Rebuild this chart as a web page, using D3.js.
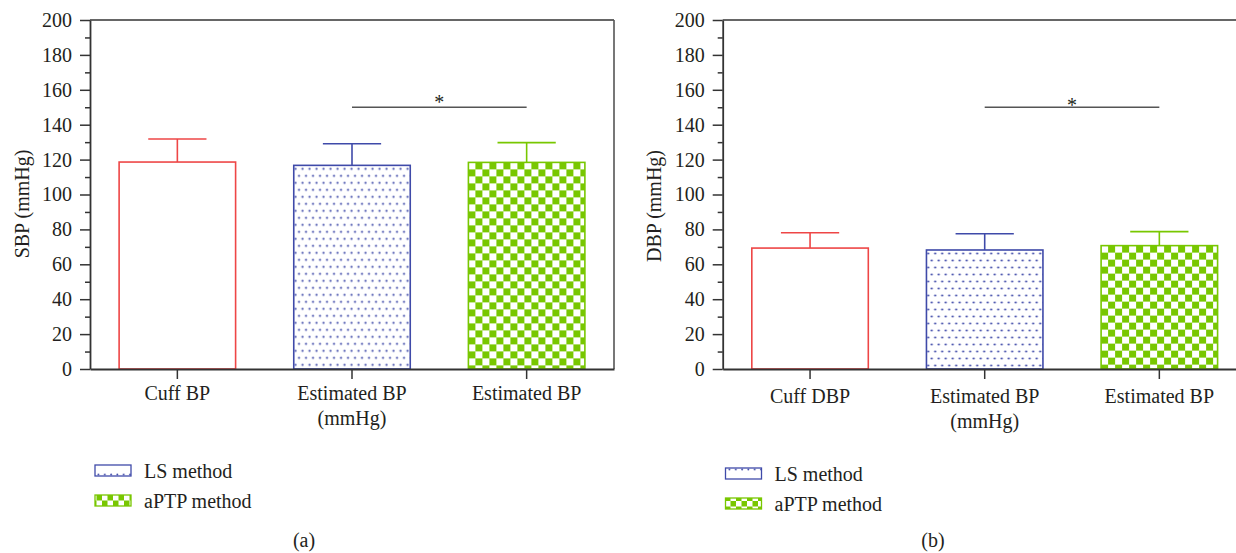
<!DOCTYPE html>
<html>
<head>
<meta charset="utf-8">
<script src="https://d3js.org/d3.v7.min.js"></script>
<style>
  body { margin: 0; background: #fff; }
  svg text { font-family: "Liberation Serif", "Times New Roman", serif; fill: #231f20; }
</style>
</head>
<body>
<svg id="chart" width="1236" height="553"></svg>
<script>
// ---- data ----
var groupNames = ["Cuff", "LS method", "aPTP method"];
var sbpLabels = [["Cuff BP"], ["Estimated BP", "(mmHg)"], ["Estimated BP"]];
var dbpLabels = [["Cuff DBP"], ["Estimated BP", "(mmHg)"], ["Estimated BP"]];
var sbpMean = [118.6, 116.7, 118.4];
var sbpUpper = [131.8, 129.1, 129.7];
var dbpMean = [69.3, 68.2, 70.7];
var dbpUpper = [78.1, 77.5, 78.7];
var yMajorTicks = [0, 20, 40, 60, 80, 100, 120, 140, 160, 180, 200];
var yMinorTicks = [10, 30, 50, 70, 90, 110, 130, 150, 170, 190];
var sigLevel = 150;
var legendNames = ["LS method", "aPTP method"];

var colors = {"Cuff": "#ee4646", "LS method": "#3f4aa9", "aPTP method": "#78c700"};
var axisColor = "#333";
var fontSize = 20;

var svg = d3.select("#chart");
var defs = svg.append("defs");

/**
 * Constructor for one bar panel
 */
function BarPanel(opts){
    var self = this;
    self.opts = opts;
    self.init();
};

BarPanel.prototype.init = function(){
    var self = this;
    var o = self.opts;
    self.g = svg.append("g");

    self.yScale = d3.scaleLinear().domain([0, 200]).range([369, 20]);
    self.xScale = d3.scaleBand()
        .domain(groupNames)
        .range([o.left, o.left + 524])
        .paddingInner(0.333)
        .paddingOuter(0.1667);
};

// dotted fill, aligned to the bar
BarPanel.prototype.dotPattern = function(id, x, y){
    var p = defs.append("pattern").attr("id", id)
        .attr("patternUnits", "userSpaceOnUse")
        .attr("x", x).attr("y", y).attr("width", 7).attr("height", 14);
    p.append("rect").attr("width", 7).attr("height", 14).attr("fill", "#fff");
    p.append("circle").attr("cx", 1.75).attr("cy", 3.5).attr("r", 1.1).attr("fill", colors["LS method"]);
    p.append("circle").attr("cx", 5.25).attr("cy", 10.5).attr("r", 1.1).attr("fill", colors["LS method"]);
};

// checkerboard fill
BarPanel.prototype.checkPattern = function(id, x, y, cell){
    var p = defs.append("pattern").attr("id", id)
        .attr("patternUnits", "userSpaceOnUse")
        .attr("x", x).attr("y", y).attr("width", cell * 2).attr("height", cell * 2);
    p.append("rect").attr("width", cell * 2).attr("height", cell * 2).attr("fill", "#fff");
    p.append("rect").attr("x", cell).attr("y", 0).attr("width", cell).attr("height", cell).attr("fill", colors["aPTP method"]);
    p.append("rect").attr("x", 0).attr("y", cell).attr("width", cell).attr("height", cell).attr("fill", colors["aPTP method"]);
};

BarPanel.prototype.draw = function(){
    var self = this;
    var o = self.opts;
    var x = self.xScale, y = self.yScale;
    var bw = x.bandwidth();

    var data = groupNames.map(function(name, i){
        return {name: name, mean: o.means[i], upper: o.upper[i], lines: o.labels[i]};
    });

    self.dotPattern(o.id + "-dots", x("LS method"), y(o.means[1]));
    self.checkPattern(o.id + "-check", x("aPTP method"), y(o.means[2]), 7);

    function fillOf(d){
        if (d.name == "LS method") return "url(#" + o.id + "-dots)";
        if (d.name == "aPTP method") return "url(#" + o.id + "-check)";
        return "#fff";
    }

    // frame: top and right lines
    self.g.append("line")
        .attr("x1", o.left).attr("x2", o.left + 524)
        .attr("y1", y(200)).attr("y2", y(200))
        .attr("stroke", axisColor).attr("stroke-width", 1.6);
    self.g.append("line")
        .attr("x1", o.left + 524).attr("x2", o.left + 524)
        .attr("y1", y(200)).attr("y2", y(0))
        .attr("stroke", "#555").attr("stroke-width", 1.6);

    // error bars
    var err = self.g.selectAll(".err").data(data).enter().append("g").attr("class", "err")
        .attr("stroke", function(d){ return colors[d.name]; })
        .attr("stroke-width", 1.6);
    err.append("line")
        .attr("x1", function(d){ return x(d.name) + bw / 2; })
        .attr("x2", function(d){ return x(d.name) + bw / 2; })
        .attr("y1", function(d){ return y(d.mean); })
        .attr("y2", function(d){ return y(d.upper); });
    err.append("line")
        .attr("x1", function(d){ return x(d.name) + bw / 4; })
        .attr("x2", function(d){ return x(d.name) + bw * 3 / 4; })
        .attr("y1", function(d){ return y(d.upper); })
        .attr("y2", function(d){ return y(d.upper); });

    // bars
    self.g.selectAll(".bar").data(data).enter().append("rect").attr("class", "bar")
        .attr("x", function(d){ return x(d.name); })
        .attr("y", function(d){ return y(d.mean); })
        .attr("width", bw)
        .attr("height", function(d){ return y(0) - y(d.mean); })
        .attr("fill", fillOf)
        .attr("stroke", function(d){ return colors[d.name]; })
        .attr("stroke-width", 1.6);

    // y axis, minor then major ticks
    self.g.append("g")
        .attr("transform", "translate(" + o.left + ",0)")
        .call(d3.axisLeft(y).tickValues(yMinorTicks).tickSize(5).tickFormat(""))
        .call(function(g){ g.select(".domain").remove(); })
        .selectAll("line").attr("stroke", axisColor).attr("stroke-width", 1.5);
    var yAxis = self.g.append("g")
        .attr("transform", "translate(" + o.left + ",0)")
        .call(d3.axisLeft(y).tickValues(yMajorTicks).tickSize(10).tickSizeOuter(0).tickPadding(8));
    yAxis.select(".domain").attr("stroke", axisColor).attr("stroke-width", 1.8);
    yAxis.selectAll("line").attr("stroke", axisColor).attr("stroke-width", 1.5);
    yAxis.selectAll("text")
        .attr("font-family", "Liberation Serif, serif")
        .attr("font-size", fontSize).attr("fill", "#231f20");

    // x axis
    var xAxis = self.g.append("g")
        .attr("transform", "translate(0," + y(0) + ")")
        .call(d3.axisBottom(x).tickSize(10).tickSizeOuter(0).tickFormat(""));
    xAxis.select(".domain").attr("stroke", axisColor).attr("stroke-width", 1.8);
    xAxis.selectAll("line").attr("stroke", axisColor).attr("stroke-width", 1.5);

    var labels = self.g.selectAll(".xlab").data(data).enter().append("text").attr("class", "xlab")
        .attr("text-anchor", "middle")
        .attr("font-size", fontSize);
    labels.selectAll("tspan").data(function(d){
            return d.lines.map(function(t){ return {text: t, name: d.name}; });
        })
        .enter().append("tspan")
        .attr("x", function(d){ return x(d.name) + bw / 2; })
        .attr("y", function(d, i){ return o.labelY + i * 25; })
        .text(function(d){ return d.text; });

    // y label
    self.g.append("text")
        .attr("transform", "translate(" + o.yLabelX + "," + o.yLabelY + ") rotate(-90)")
        .attr("text-anchor", "middle")
        .attr("font-size", fontSize)
        .text(o.yTitle);

    // significance line and star
    var x1 = x("LS method") + bw / 2, x2 = x("aPTP method") + bw / 2;
    self.g.append("line")
        .attr("x1", x1).attr("x2", x2)
        .attr("y1", y(sigLevel)).attr("y2", y(sigLevel))
        .attr("stroke", "#555").attr("stroke-width", 1.5);
    self.g.append("text")
        .attr("x", (x1 + x2) / 2).attr("y", y(sigLevel) + o.starDy)
        .attr("text-anchor", "middle")
        .attr("font-size", fontSize)
        .text("*");

    // legend
    var lsId = o.id + "-legdots", apId = o.id + "-legcheck";
    var lp = defs.append("pattern").attr("id", lsId)
        .attr("patternUnits", "userSpaceOnUse")
        .attr("x", o.legendX + 1).attr("y", o.legendY).attr("width", 6.3).attr("height", 11);
    lp.append("rect").attr("width", 6.3).attr("height", 11).attr("fill", "#fff");
    lp.append("circle").attr("cx", 2).attr("cy", 6.5).attr("r", 0.9).attr("fill", colors["LS method"]);
    self.checkPattern(apId, o.legendX, o.legendY + 30, 5.5);

    var leg = self.g.selectAll(".leg").data(legendNames).enter().append("g").attr("class", "leg")
        .attr("transform", function(d, i){ return "translate(" + o.legendX + "," + (o.legendY + i * 30) + ")"; });
    leg.append("rect")
        .attr("width", 36).attr("height", 11)
        .attr("fill", function(d){ return d == "LS method" ? "url(#" + lsId + ")" : "url(#" + apId + ")"; })
        .attr("stroke", function(d){ return colors[d]; })
        .attr("stroke-width", 1.3);
    leg.append("text")
        .attr("x", 49).attr("y", 12.5)
        .attr("font-size", fontSize)
        .text(function(d){ return d; });

    // panel caption
    self.g.append("text")
        .attr("x", o.captionX).attr("y", 547)
        .attr("text-anchor", "middle")
        .attr("font-size", fontSize)
        .text(o.caption);
};

var panelA = new BarPanel({
    id: "a", left: 90, means: sbpMean, upper: sbpUpper, labels: sbpLabels,
    yTitle: "SBP (mmHg)", yLabelX: 29, yLabelY: 204, labelY: 400, starDy: 2,
    legendX: 95, legendY: 465, captionX: 304, caption: "(a)"
});
panelA.draw();

var panelB = new BarPanel({
    id: "b", left: 722.7, means: dbpMean, upper: dbpUpper, labels: dbpLabels,
    yTitle: "DBP (mmHg)", yLabelX: 661, yLabelY: 206, labelY: 403, starDy: 5,
    legendX: 725.5, legendY: 468, captionX: 933, caption: "(b)"
});
panelB.draw();
</script>
</body>
</html>
